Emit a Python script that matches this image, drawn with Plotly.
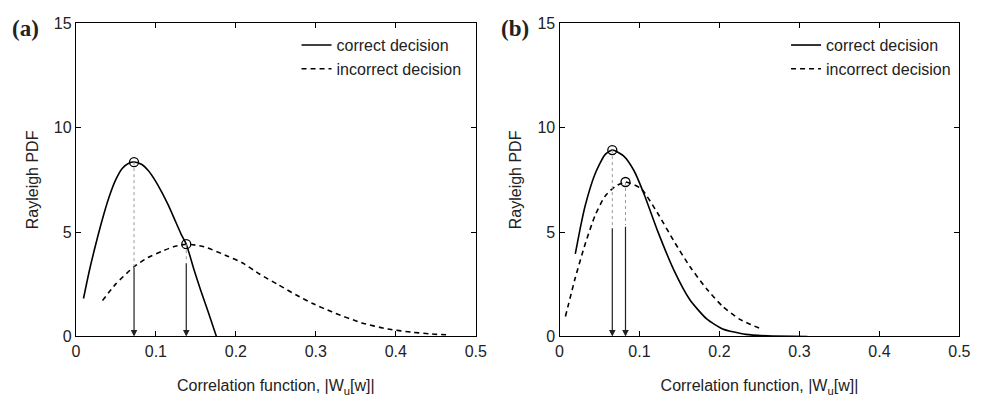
import plotly.graph_objects as go

# ---------------- data ----------------
a_correct_x = [0.0095, 0.0168, 0.025, 0.0333, 0.0415, 0.0497, 0.0579, 0.0661, 0.0727, 0.0825, 0.0907,
               0.099, 0.107, 0.1154, 0.1235, 0.1318, 0.138, 0.148, 0.156, 0.1646, 0.1757]
a_correct_y = [1.82, 3.15, 4.44, 5.64, 6.68, 7.50, 8.05, 8.30, 8.36, 8.24, 7.94,
               7.48, 6.94, 6.30, 5.60, 4.88, 4.42, 3.16, 2.22, 1.27, 0.0]

a_incorrect_x = [0.0333, 0.0497, 0.073, 0.090, 0.107, 0.122, 0.138, 0.160, 0.189, 0.2086, 0.230, 0.253,
                 0.275, 0.296, 0.320, 0.3575, 0.390, 0.419, 0.445, 0.468]
a_incorrect_y = [1.72, 2.51, 3.35, 3.78, 4.07, 4.30, 4.42, 4.30, 3.86, 3.52, 2.98, 2.48,
                 2.00, 1.58, 1.18, 0.65, 0.36, 0.21, 0.12, 0.07]

b_correct_x = [0.0197, 0.026, 0.032, 0.0444, 0.0567, 0.066, 0.080, 0.093, 0.106, 0.122, 0.143, 0.163,
               0.184, 0.204, 0.233, 0.260, 0.310]
b_correct_y = [3.96, 5.20, 6.25, 7.78, 8.70, 8.93, 8.65, 7.95, 6.79, 5.12, 3.18, 1.76,
               0.84, 0.36, 0.10, 0.03, 0.0]

b_incorrect_x = [0.0074, 0.0197, 0.032, 0.0444, 0.0567, 0.069, 0.0825, 0.1018, 0.122, 0.143, 0.163,
                 0.184, 0.204, 0.225, 0.2516]
b_incorrect_y = [0.96, 2.81, 4.42, 5.79, 6.71, 7.17, 7.40, 7.09, 5.95, 4.57, 3.35,
                 2.28, 1.44, 0.83, 0.37]

# peak markers (x, y) and the level where the dotted guide turns into an arrow
a_peak_x = [0.0727, 0.138]
a_peak_y = [8.35, 4.42]
a_break_y = [3.35, 3.58]

b_peak_x = [0.066, 0.0825]
b_peak_y = [8.93, 7.40]
b_break_y = [5.26, 5.33]

x_ticks = [0, 0.1, 0.2, 0.3, 0.4, 0.5]
y_ticks = [0, 5, 10, 15]
legend_names = ["correct decision", "incorrect decision"]
panel_labels = ["(a)", "(b)"]
x_title = "Correlation function, |W<sub>u</sub>[w]|"
y_title = "Rayleigh PDF"

# ---------------- figure ----------------
W, H = 997, 402
FONT = "Liberation Sans, Arial, sans-serif"
FS = 16

fig = go.Figure()

panels = [
    ("x", "y", "legend", a_correct_x, a_correct_y, a_incorrect_x, a_incorrect_y, a_peak_x, a_peak_y, a_break_y),
    ("x2", "y2", "legend2", b_correct_x, b_correct_y, b_incorrect_x, b_incorrect_y, b_peak_x, b_peak_y, b_break_y),
]

for xa, ya, lg, cx, cy, ix, iy, px, py, by in panels:
    fig.add_trace(go.Scatter(x=cx, y=cy, mode="lines", name=legend_names[0],
                             line=dict(color="black", width=1.6, shape="spline", smoothing=0.6),
                             xaxis=xa, yaxis=ya, legend=lg))
    fig.add_trace(go.Scatter(x=ix, y=iy, mode="lines", name=legend_names[1],
                             line=dict(color="black", width=1.6, dash="5px,4px", shape="spline", smoothing=0.6),
                             xaxis=xa, yaxis=ya, legend=lg))
    for k in range(len(px)):
        fig.add_trace(go.Scatter(x=[px[k], px[k]], y=[py[k], by[k]], mode="lines",
                                 line=dict(color="#999999", width=1, dash="dot"),
                                 showlegend=False, hoverinfo="skip", xaxis=xa, yaxis=ya))
        fig.add_annotation(x=px[k], y=0, ax=px[k], ay=by[k], xref=xa, yref=ya,
                           axref=xa, ayref=ya, text="", showarrow=True,
                           arrowhead=2, arrowsize=1.1, arrowwidth=1.2, arrowcolor="#222222")
    fig.add_trace(go.Scatter(x=px, y=py, mode="markers",
                             marker=dict(symbol="circle-open", size=9, color="black",
                                         line=dict(width=1.3, color="black")),
                             showlegend=False, hoverinfo="skip", xaxis=xa, yaxis=ya))


def px2x(p):
    return p / W


def py2y(p):
    return 1 - p / H


ydom = [py2y(343), py2y(16)]
axis_common = dict(showline=True, linecolor="black", linewidth=1.2, mirror="ticks",
                   ticks="inside", ticklen=5, tickcolor="black", showgrid=False,
                   zeroline=False, tickfont=dict(family=FONT, size=FS, color="#222"))
xt = dict(text=x_title, font=dict(family=FONT, size=FS, color="#222"), standoff=21)
yt = dict(text=y_title, font=dict(family=FONT, size=FS, color="#222"), standoff=11)

fig.update_layout(
    width=W, height=H, margin=dict(l=0, r=0, t=0, b=0),
    paper_bgcolor="white", plot_bgcolor="white",
    font=dict(family=FONT, color="#222"),
    xaxis=dict(domain=[px2x(73), px2x(479)], range=[0, 0.5], tickvals=x_ticks, title=xt,
               anchor="y", **axis_common),
    yaxis=dict(domain=ydom, range=[0, 15], tickvals=y_ticks, title=yt, anchor="x", **axis_common),
    xaxis2=dict(domain=[px2x(564), px2x(970)], range=[0, 0.5], tickvals=x_ticks, title=xt,
                anchor="y2", **axis_common),
    yaxis2=dict(domain=ydom, range=[0, 15], tickvals=y_ticks, title=yt, anchor="x2", **axis_common),
    legend=dict(x=px2x(297), y=py2y(21), xanchor="left", yanchor="top",
                bgcolor="rgba(0,0,0,0)", itemwidth=30,
                font=dict(family=FONT, size=FS, color="#222"), tracegroupgap=0),
    legend2=dict(x=px2x(794), y=py2y(21), xanchor="left", yanchor="top",
                 bgcolor="rgba(0,0,0,0)", itemwidth=30,
                 font=dict(family=FONT, size=FS, color="#222"), tracegroupgap=0),
    showlegend=True,
)

for lab, xp in zip(panel_labels, [6, 503]):
    fig.add_annotation(text="<b>" + lab + "</b>", x=px2x(xp), y=py2y(6), xref="paper", yref="paper",
                       xanchor="left", yanchor="top", showarrow=False,
                       font=dict(family="Liberation Serif, Times New Roman, serif", size=23, color="#222"))

fig.write_html("out.html")
